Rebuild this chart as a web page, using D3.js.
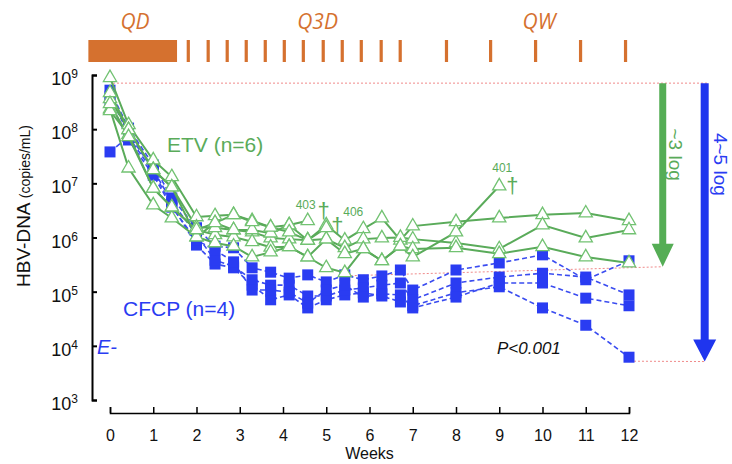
<!DOCTYPE html>
<html>
<head>
<meta charset="utf-8">
<script src="https://cdn.jsdelivr.net/npm/d3@7"></script>
<style>
    body { margin: 0; background: #fff; }
    svg { font-family: 'Liberation Sans', Arial, sans-serif; }
</style>
</head>
<body>
<div id="chart"></div>
<script>
// sampling days (x axis is in weeks)
const days = [0, 3, 7, 10, 14, 17, 20, 23, 26, 29, 32, 35, 38, 41, 44, 47, 49, 56, 63, 70, 77, 84];

// log10 HBV-DNA (copies/mL), ETV patients
const etvTop = [8.95, 8.08, 7.43, 7.12, 6.38, 6.40, 6.42, 6.31, 6.19, 6.23, 5.95, 6.23, 5.95, 6.16, 6.36, 5.95, 6.21, 6.29, 6.36, 6.42, 6.45, 6.31];
const etvMid = [8.37, 7.28, 6.60, 6.36, 6.01, 6.27, 6.14, 6.10, 5.99, 5.97, 5.95, 5.97, 5.81, 5.97, 5.99, 6.00, 5.97, 5.90, 5.79, 6.23, 5.99, 6.14];
const etvLow = [8.34, 7.90, 6.91, 6.56, 6.14, 6.05, 6.01, 5.92, 5.82, 5.83, 5.64, 5.97, 5.70, 5.79, 5.57, 5.84, 5.79, 5.81, 5.70, 5.83, 5.64, 5.53];
const etv401 = [8.56, 7.99, 7.25, 6.93, 6.01, 5.90, 5.84, 5.64, 5.73, 5.83, 5.64, 5.44, 5.35, 5.79, 5.57, 5.84, 5.64, 6.10, 6.95];
const etv403 = [8.67, 7.99, 7.25, 6.93, 6.19, 6.18, 6.14, 6.14, 6.08, 6.23, 6.31];
const etv406 = [8.47, 7.86, 6.91, 6.56, 6.14, 6.27, 6.42, 6.29, 6.19, 6.10, 5.95, 6.18];

// log10 HBV-DNA (copies/mL), CFCP patients
const cfcpA = [7.58, 7.86, 7.21, 6.60, 5.86, 5.51, 5.44, 5.12, 4.85, 4.94, 4.70, 4.85, 4.94, 4.98, 4.92, 4.81, 4.74, 4.98, 5.09, 4.70, 4.38, 3.79];
const cfcpB = [8.72, 8.02, 7.34, 6.73, 6.18, 5.84, 5.81, 5.44, 5.36, 5.25, 5.31, 5.18, 5.31, 5.22, 5.29, 5.40, 5.03, 5.40, 5.53, 5.68, 5.22, 5.57];
const cfcpC = [8.61, 7.91, 7.25, 6.66, 6.05, 5.58, 5.47, 5.22, 5.12, 5.12, 4.92, 4.92, 5.03, 5.07, 5.12, 5.16, 4.85, 5.16, 5.27, 5.34, 5.27, 4.94];
const cfcpD = [8.50, 7.80, 7.15, 6.56, 5.95, 5.77, 5.55, 5.03, 5.03, 4.99, 4.79, 5.03, 5.12, 4.90, 4.96, 4.94, 4.70, 4.90, 5.16, 5.16, 4.88, 4.74];

const etvSeries = [etvTop, etvMid, etvLow, etv401, etv403, etv406];
const cfcpSeries = [cfcpA, cfcpB, cfcpC, cfcpD];

const yTickExps = [3, 4, 5, 6, 7, 8, 9];
const xTickWeeks = [0, 1, 2, 3, 4, 5, 6, 7, 8, 9, 10, 11, 12];

// dosing schedule (weeks)
const qdSpan = [-0.5, 1.55];
const q3dWeeks = [1.81, 2.27, 2.71, 3.15, 3.59, 4.03, 4.47, 4.93, 5.37, 5.81, 6.27, 6.71];
const qwWeeks = [7.78, 8.8, 9.84, 10.88, 11.92];

// log-drop annotations (log10 levels, x in weeks)
const baselineLog = 8.85;
const etvFloorLog = 5.46;
const cfcpFloorLog = 3.71;
const etvArrowWeek = 12.78;
const cfcpArrowWeek = 13.75;

const width = 732,
    height = 464;

const green = '#5aab5a',
    greenMark = '#72c272',
    blue = '#2a3cf2',
    orange = '#d5712f',
    pink = '#f08a8a';

const svg = d3.select('#chart').append('svg').attr('width', width).attr('height', height);

const x = d3.scaleLinear().domain([0, 12]).range([110, 629]);
const y = d3.scaleLog().domain([1e3, 1e9]).range([400, 75]);

const px = (i) => x(days[i] / 7);
const py = (v) => y(Math.pow(10, v));

// y axis, ticks pointing inward
svg.append('g')
    .attr('transform', 'translate(92,0)')
    .call(d3.axisRight(y).tickValues(yTickExps.map((e) => Math.pow(10, e))).tickSize(5).tickFormat(''))
    .call((g) => g.selectAll('path, line').attr('stroke', '#000').attr('stroke-width', 2));

const yLab = svg
    .append('g')
    .selectAll('text')
    .data(yTickExps)
    .enter()
    .append('text')
    .attr('x', 78)
    .attr('y', (d) => py(d) + 10)
    .attr('text-anchor', 'end')
    .attr('fill', '#111');
yLab.append('tspan').style('font-size', '18px').text('10');
yLab.append('tspan').attr('dy', -7).style('font-size', '12px').text((d) => d);

svg.append('text')
    .attr('transform', 'translate(30,206) rotate(-90)')
    .attr('text-anchor', 'middle')
    .attr('fill', '#111')
    .call((t) => t.append('tspan').style('font-size', '19px').text('HBV-DNA '))
    .call((t) => t.append('tspan').style('font-size', '14px').text('(copies/mL)'));

// x axis, detached below
svg.append('g')
    .attr('transform', 'translate(0,413)')
    .call(d3.axisBottom(x).tickValues(xTickWeeks).tickSize(-6).tickSizeOuter(-6).tickPadding(17))
    .call((g) => g.selectAll('path, line').attr('stroke', '#000').attr('stroke-width', 1.5))
    .call((g) => g.selectAll('text').attr('fill', '#111').style('font-size', '16px').style('font-family', 'Liberation Sans, Arial, sans-serif'));

svg.append('text')
    .attr('x', x(6))
    .attr('y', 459)
    .attr('text-anchor', 'middle')
    .attr('fill', '#111')
    .style('font-size', '16px')
    .text('Weeks');

// dosing bar
svg.append('rect')
    .attr('x', x(qdSpan[0]))
    .attr('y', 40)
    .attr('width', x(qdSpan[1]) - x(qdSpan[0]))
    .attr('height', 22)
    .attr('fill', orange);

svg.append('g')
    .selectAll('rect')
    .data(q3dWeeks.concat(qwWeeks))
    .enter()
    .append('rect')
    .attr('x', (d) => x(d) - 1.6)
    .attr('y', 40)
    .attr('width', 3.2)
    .attr('height', 22)
    .attr('fill', orange);

const doseLabels = [
    { text: 'QD', week: 0.58 },
    { text: 'Q3D', week: 4.8 },
    { text: 'QW', week: 9.92 },
];
svg.append('g')
    .selectAll('text')
    .data(doseLabels)
    .enter()
    .append('text')
    .attr('x', (d) => x(d.week))
    .attr('y', 29)
    .attr('text-anchor', 'middle')
    .attr('fill', orange)
    .style('font-family', "'Open Sans', sans-serif")
    .style('font-style', 'italic')
    .style('font-size', '21px')
    .text((d) => d.text);

// reference dotted lines
const dotted = (x1, y1, x2, y2) =>
    svg.append('line')
        .attr('x1', x1)
        .attr('y1', y1)
        .attr('x2', x2)
        .attr('y2', y2)
        .attr('stroke', pink)
        .attr('stroke-width', 1)
        .attr('stroke-dasharray', '2,2');

dotted(px(0) + 3, py(baselineLog), x(cfcpArrowWeek) + 4, py(baselineLog));
dotted(px(12) + 6, py(etv401[12]) + 3, x(etvArrowWeek), py(etvFloorLog));
dotted(px(21) + 5, py(cfcpA[21]) + 4, x(cfcpArrowWeek), py(cfcpFloorLog));

// CFCP lines and squares
const line = d3
    .line()
    .x((d, i) => px(i))
    .y((d) => py(d));

svg.append('g')
    .selectAll('path')
    .data(cfcpSeries)
    .enter()
    .append('path')
    .attr('d', line)
    .attr('fill', 'none')
    .attr('stroke', '#3a4cf0')
    .attr('stroke-width', 1.6)
    .attr('stroke-dasharray', '5,3');

cfcpSeries.forEach((s) => {
    svg.append('g')
        .selectAll('rect')
        .data(s)
        .enter()
        .append('rect')
        .attr('x', (d, i) => px(i) - 5.5)
        .attr('y', (d) => py(d) - 5.5)
        .attr('width', 11)
        .attr('height', 11)
        .attr('fill', blue);
});

// ETV lines and triangles
svg.append('g')
    .selectAll('path')
    .data(etvSeries)
    .enter()
    .append('path')
    .attr('d', line)
    .attr('fill', 'none')
    .attr('stroke', green)
    .attr('stroke-width', 2);

const tri = d3.symbol(d3.symbolTriangle).size(76);
etvSeries.forEach((s) => {
    svg.append('g')
        .selectAll('path')
        .data(s)
        .enter()
        .append('path')
        .attr('d', tri)
        .attr('transform', (d, i) => `translate(${px(i)},${py(d)})`)
        .attr('fill', '#fff')
        .attr('stroke', greenMark)
        .attr('stroke-width', 1.3);
});

// deaths
const deaths = [
    { id: '403', s: etv403, lx: -2, ly: -12, anchor: 'middle', dx: 16, dy: -3 },
    { id: '406', s: etv406, lx: 17, ly: -12, anchor: 'start', dx: 11, dy: 5 },
    { id: '401', s: etv401, lx: 3, ly: -14, anchor: 'middle', dx: 13, dy: 7 },
];
deaths.forEach((d) => {
    const i = d.s.length - 1;
    svg.append('text')
        .attr('x', px(i) + d.lx)
        .attr('y', py(d.s[i]) + d.ly)
        .attr('text-anchor', d.anchor)
        .attr('fill', green)
        .style('font-size', '12px')
        .text(d.id);
    svg.append('text')
        .attr('x', px(i) + d.dx)
        .attr('y', py(d.s[i]) + d.dy)
        .attr('text-anchor', 'middle')
        .attr('fill', green)
        .style('font-size', '22px')
        .text('\u2020');
});

// group labels
svg.append('text').attr('x', 167).attr('y', 152).attr('fill', green).style('font-size', '21px').text('ETV (n=6)');
svg.append('text').attr('x', 123).attr('y', 316).attr('fill', blue).style('font-size', '21px').text('CFCP (n=4)');
svg.append('text').attr('x', 97).attr('y', 354).attr('fill', blue).style('font-size', '20px').style('font-style', 'italic').text('E-');
svg.append('text').attr('x', 497).attr('y', 354).attr('fill', '#111').style('font-size', '17px').style('font-style', 'italic').text('P<0.001');

// drop arrows
function arrow(week, bottomLog, color, shaft, head, headLen) {
    const cx = x(week),
        top = py(baselineLog),
        tip = py(bottomLog),
        neck = tip - headLen;
    const pts = [
        [cx - shaft / 2, top],
        [cx + shaft / 2, top],
        [cx + shaft / 2, neck],
        [cx + head / 2, neck],
        [cx, tip],
        [cx - head / 2, neck],
        [cx - shaft / 2, neck],
    ];
    svg.append('path').attr('d', d3.line()(pts) + 'Z').attr('fill', color);
}
arrow(etvArrowWeek, etvFloorLog, '#55ad55', 7, 22, 23);
arrow(cfcpArrowWeek, cfcpFloorLog, '#1f35ee', 8, 23, 22);

svg.append('text')
    .attr('transform', `translate(669,${py(7.53)}) rotate(90)`)
    .attr('text-anchor', 'middle')
    .attr('fill', green)
    .style('font-size', '19px')
    .text('~3 log');
svg.append('text')
    .attr('transform', `translate(714,${py(7.35)}) rotate(90)`)
    .attr('text-anchor', 'middle')
    .attr('fill', blue)
    .style('font-size', '19px')
    .text('4~5 log');
</script>
</body>
</html>
